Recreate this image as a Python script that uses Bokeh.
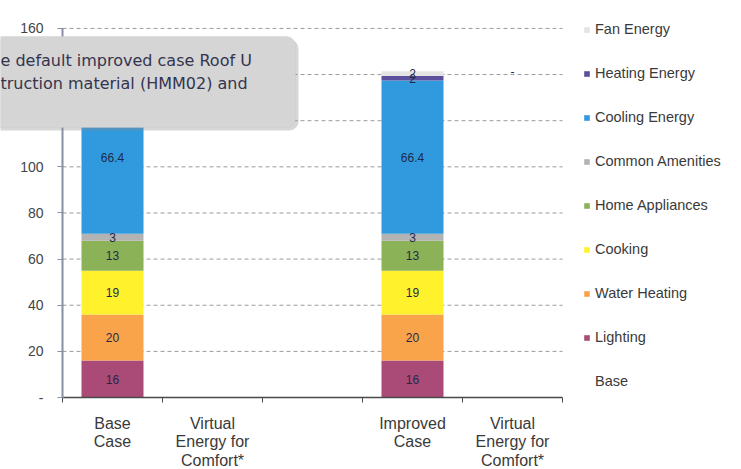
from bokeh.plotting import figure
from bokeh.models import (FixedTicker, Legend, LegendItem, Label,
                          BoxAnnotation, Range1d, ColumnDataSource)
from bokeh.core.properties import value
from bokeh.embed import file_html
from bokeh.resources import INLINE

# Category axis (one slot per column, the third one left empty)
categories = ["Base\nCase", "Virtual\nEnergy for\nComfort*", "",
              "Improved\nCase", "Virtual\nEnergy for\nComfort*"]

# Stacked end-use series, bottom to top
series = ["Base", "Lighting", "Water Heating", "Cooking", "Home Appliances",
          "Common Amenities", "Cooling Energy", "Heating Energy", "Fan Energy"]
colors = [None, "#aa4a76", "#f9a34b", "#fff22c", "#8cb258",
          "#b3b3b3", "#319ade", "#5c4f9c", "#e4e4e4"]

base_case = [0, 16, 20, 19, 13, 3, 66.4, 2, 2]
improved_case = [0, 16, 20, 19, 13, 3, 66.4, 2, 2]
virtual_comfort = [0, 0]          # base case, improved case

y_ticks = [0, 20, 40, 60, 80, 100, 120, 140, 160]
y_tick_labels = ["-", "20", "40", "60", "80", "100", "120", "140", "160"]

FONT = "Liberation Sans"
W, H = 741, 469

# The frame fills the whole canvas; the axes sit at fixed data locations so
# that the hover note and legend can overlap them.
p = figure(width=W, height=H, output_backend="svg", toolbar_location=None,
           x_range=Range1d(-0.62, 6.79), y_range=Range1d(-31.2, 172.1),
           min_border=0, min_border_left=0, min_border_right=0,
           min_border_top=0, min_border_bottom=0)
p.title.visible = False
p.outline_line_color = None
p.background_fill_color = "white"
p.border_fill_color = "white"

n = len(categories)
centers = [i + 0.5 for i in range(n)]
bar_slots = [centers[0], centers[3]]
virtual_slots = [centers[1], centers[4]]
stacks = [base_case, improved_case]

# dashed value grid, limited to the category span
p.xgrid.visible = False
p.ygrid.visible = False
grid_vals = y_ticks[1:]
p.segment(x0=[0] * len(grid_vals), x1=[n] * len(grid_vals),
          y0=grid_vals, y1=grid_vals, line_color="#9c9c9c",
          line_dash="4 3", line_width=1, level="underlay")

# stacked bars
renderers = []
lab_x, lab_y, lab_t = [], [], []
bottoms = [0.0, 0.0]
for k, name in enumerate(series):
    vals = [stacks[0][k], stacks[1][k]]
    tops = [b + v for b, v in zip(bottoms, vals)]
    src = ColumnDataSource(dict(x=bar_slots, bottom=bottoms, top=tops))
    r = p.vbar(x="x", bottom="bottom", top="top", width=0.62, source=src,
               fill_color=colors[k], line_color=None)
    renderers.append(r)
    for x, b, t, v in zip(bar_slots, bottoms, tops, vals):
        if v > 0 and name != "Base":
            lab_x.append(x)
            lab_y.append((b + t) / 2)
            lab_t.append(f"{v:g}")
    bottoms = tops

# zero-valued virtual comfort columns, shown as a dash label
for x, total, v in zip(virtual_slots, bottoms, virtual_comfort):
    lab_x.append(x)
    lab_y.append(total + v)
    lab_t.append("-" if v == 0 else f"{v:g}")

p.text(x=lab_x, y=lab_y, text=lab_t, text_align="center",
       text_baseline="middle", text_font=value(FONT),
       text_font_size="12px", text_color="#1f2a48")

# y axis
p.yaxis.fixed_location = 0
p.yaxis.bounds = (0, y_ticks[-1])
p.yaxis.ticker = FixedTicker(ticks=y_ticks)
p.yaxis.major_label_overrides = {t: l for t, l in zip(y_ticks, y_tick_labels)}
p.yaxis.axis_line_color = "#8a90a4"
p.yaxis.axis_line_width = 2
p.yaxis.major_tick_line_color = "#8a90a4"
p.yaxis.major_tick_out = 5
p.yaxis.major_tick_in = 1
p.yaxis.minor_tick_line_color = None
p.yaxis.major_label_standoff = 14
p.yaxis.major_label_text_font = FONT
p.yaxis.major_label_text_font_size = "14px"
p.yaxis.major_label_text_color = "#444444"

# x axis: labels at slot centres, ticks at slot boundaries
p.xaxis.fixed_location = 0
p.xaxis.bounds = (0, n)
p.xaxis.ticker = FixedTicker(ticks=centers, minor_ticks=list(range(n + 1)))
p.xaxis.major_label_overrides = {c: l for c, l in zip(centers, categories)}
p.xaxis.axis_line_color = "#4a4a4a"
p.xaxis.axis_line_width = 1.5
p.xaxis.major_tick_line_color = None
p.xaxis.major_tick_out = 0
p.xaxis.major_tick_in = 0
p.xaxis.minor_tick_line_color = "#4a4a4a"
p.xaxis.minor_tick_out = 5
p.xaxis.minor_tick_in = 0
p.xaxis.major_label_standoff = 12
p.xaxis.major_label_text_font = FONT
p.xaxis.major_label_text_font_size = "16px"
p.xaxis.major_label_text_color = "#3a3a3a"
p.xaxis.major_label_text_line_height = 1.1

# legend, top of the stack first
items = [LegendItem(label=s, renderers=[r])
         for s, r in zip(reversed(series), reversed(renderers))]
legend = Legend(items=items, location=(583, 78), orientation="vertical",
                glyph_width=7, glyph_height=7, label_standoff=5,
                label_height=20, spacing=24, padding=0, margin=0,
                border_line_color=None, background_fill_alpha=0,
                label_text_font=FONT, label_text_font_size="14.5px",
                label_text_color="#3a3a3a")
p.add_layout(legend, "center")

# hover note overlay in the top-left corner (screen units from bottom-left)
def box(left, right, top, bottom, **kw):
    return BoxAnnotation(left=left, right=right, top=H - top, bottom=H - bottom,
                         left_units="screen", right_units="screen",
                         top_units="screen", bottom_units="screen",
                         border_radius=9, level="overlay", **kw)

p.add_layout(box(-8, 298, 39, 130, fill_color="#8c8c8c", fill_alpha=0.35,
                 line_color=None))
p.add_layout(box(-10, 295, 36, 127, fill_color="#d5d5d5", fill_alpha=1,
                 line_color="#c6c6c6", line_width=1))
for txt, cy in [("e default improved case Roof U", 60),
                ("truction material (HMM02) and", 83)]:
    p.add_layout(Label(x=0, y=H - cy, x_units="screen", y_units="screen",
                       text=txt, text_font="DejaVu Sans",
                       text_font_size="16px", text_color="#34344e",
                       text_baseline="middle", level="overlay"))

open("out.html", "w").write(file_html(p, INLINE))
